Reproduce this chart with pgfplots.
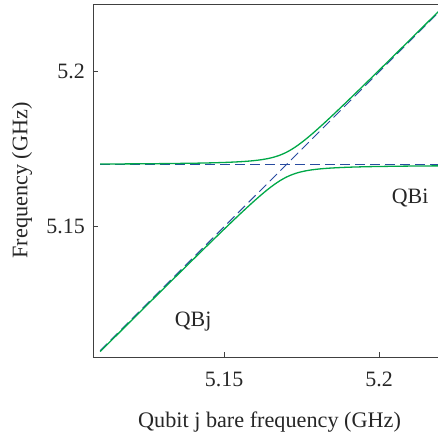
\documentclass[border=0pt]{standalone}
\usepackage{fontspec}
\setmainfont{Liberation Serif}
\usepackage{pgfplots}
\pgfplotsset{compat=1.18}
\definecolor{eiggreen}{RGB}{0,168,72}
\definecolor{barebl}{RGB}{40,75,160}
\begin{document}
\begin{tikzpicture}
\begin{axis}[
  scale only axis,
  width=345bp, height=353bp,
  xmin=5.1077, xmax=5.219,
  ymin=5.108, ymax=5.2219,
  axis x line*=bottom,
  axis y line*=left,
  axis line style={draw=black!75, line width=0.8bp, -},
  xtick={5.15,5.2}, xticklabels={5.15,5.2},
  ytick={5.15,5.2}, yticklabels={5.15,5.2},
  tick align=inside,
  major tick length=5bp,
  tick style={black!75, line width=0.8bp},
  ticklabel style={font=\fontsize{22}{27}\selectfont, text=black!85},
  xticklabel style={anchor=base, inner sep=0pt, yshift=-29bp},
  yticklabel style={anchor=base east, inner sep=0pt, xshift=-8bp, yshift=-7bp},
  xlabel={Qubit j bare frequency (GHz)},
  ylabel={Frequency (GHz)},
  every axis x label/.style={at={(rel axis cs:0.5,0)}, anchor=base, yshift=-70bp, xshift=4bp,
    font=\fontsize{22.3}{27}\selectfont, text=black!85},
  every axis y label/.style={at={(rel axis cs:0,0.5)}, anchor=center, rotate=90, yshift=71bp,
    font=\fontsize{22.3}{27}\selectfont, text=black!85},
  clip=true,
]
% bare (uncoupled) frequencies
\addplot[barebl, line width=1bp, dash pattern=on 10bp off 5bp] coordinates {(5.11,5.17) (5.22,5.17)};
\addplot[barebl, line width=1bp, dash pattern=on 10bp off 5bp] coordinates {(5.11,5.11) (5.22,5.22)};
% dressed frequencies
\addplot[eiggreen, line width=1.3bp, smooth] coordinates {
(5.11,5.170265) (5.12,5.170318) (5.13,5.170396) (5.14,5.170524) (5.145,5.170624)
(5.15,5.17077) (5.155,5.171) (5.158,5.171211) (5.16,5.171403) (5.162,5.171657)
(5.164,5.172) (5.166,5.172472) (5.168,5.173123) (5.17,5.174) (5.172,5.175123)
(5.174,5.176472) (5.176,5.178) (5.178,5.179657) (5.18,5.181403) (5.182,5.183211)
(5.185,5.186) (5.19,5.19077) (5.195,5.195624) (5.2,5.200524) (5.21,5.210396) (5.22,5.220318)
};
\addplot[eiggreen, line width=1.3bp, smooth] coordinates {
(5.11,5.109735) (5.12,5.119682) (5.13,5.129604) (5.14,5.139476) (5.145,5.144376)
(5.15,5.14923) (5.155,5.154) (5.158,5.156789) (5.16,5.158597) (5.162,5.160343)
(5.164,5.162) (5.166,5.163528) (5.168,5.164877) (5.17,5.166) (5.172,5.166877)
(5.174,5.167528) (5.176,5.168) (5.178,5.168343) (5.18,5.168597) (5.182,5.168789)
(5.185,5.169) (5.19,5.16923) (5.195,5.169376) (5.2,5.169476) (5.21,5.169604) (5.22,5.169682)
};
\node[font=\fontsize{22}{27}\selectfont, text=black!85] at (axis cs:5.21,5.1594) {QBi};
\node[font=\fontsize{22}{27}\selectfont, text=black!85] at (axis cs:5.14,5.1194) {QBj};
\draw[black!75, line width=0.8bp] (rel axis cs:0,1) -- (rel axis cs:1,1);
\end{axis}
\pgfresetboundingbox
\useasboundingbox (-93bp,-77bp) rectangle (345bp,357bp);
\end{tikzpicture}
\end{document}
